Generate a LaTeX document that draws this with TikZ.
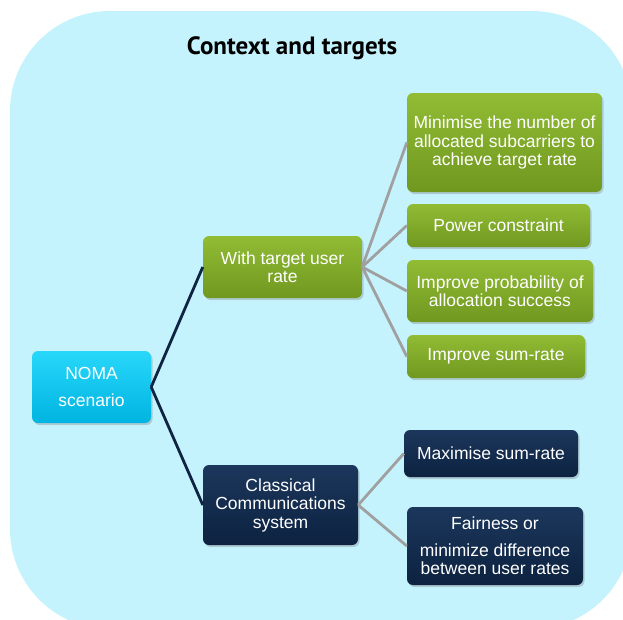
\documentclass[tikz,border=0pt]{standalone}
\usepackage{fontspec}
\setmainfont{Liberation Sans}
\newfontfamily\titlefont{PT Sans}
\usetikzlibrary{shadows}

\definecolor{bgcyan}{RGB}{196,243,253}
\definecolor{nomatop}{RGB}{40,215,250}
\definecolor{nomabot}{RGB}{0,180,225}
\definecolor{greentop}{RGB}{145,188,52}
\definecolor{greenbot}{RGB}{112,152,32}
\definecolor{navytop}{RGB}{28,55,92}
\definecolor{navybot}{RGB}{12,34,64}
\definecolor{navyline}{RGB}{14,36,66}
\definecolor{greyline}{RGB}{160,160,160}

\begin{document}
\begin{tikzpicture}
[
	x=1pt, y=-1pt,
	box/.style={rectangle,rounded corners=6pt,align=center,inner sep=0pt,
		text=white,font=\fontsize{17.5}{18.5}\selectfont,
		drop shadow={shadow xshift=1.5pt,shadow yshift=-2pt,opacity=0.35}},
	nomabox/.style={box,top color=nomatop,bottom color=nomabot},
	greenbox/.style={box,top color=greentop,bottom color=greenbot},
	navybox/.style={box,top color=navytop,bottom color=navybot},
	rootlink/.style={draw=navyline,line width=2.8pt},
	leaflink/.style={draw=greyline,line width=2.8pt}
]

	% canvas and background panel
	\useasboundingbox (0,0) rectangle (623,619);
	\begin{scope}
		\clip (0,0) rectangle (623,619);
		\fill[bgcyan,rounded corners=100pt] (10,11) rectangle (632,629);
	\end{scope}

	% title
	\node[anchor=base,inner sep=0pt,font=\titlefont\bfseries\fontsize{25}{28}\selectfont]
		(title) at (292,54) {Context and targets};

	% root
	\node[nomabox,minimum width=119pt,minimum height=72pt] (noma) at (91.5,387)
		{NOMA\\[8pt]scenario};

	% branches
	\node[greenbox,minimum width=159pt,minimum height=62pt] (rate) at (282.5,267)
		{With target user\\rate};
	\node[navybox,minimum width=155pt,minimum height=80pt] (classic) at (280.5,505)
		{Classical\\Communications\\system};

	% targets with user rate
	\node[greenbox,minimum width=195pt,minimum height=99pt] (subc) at (504.5,142.5)
		{Minimise the number of\\allocated subcarriers to\\achieve target rate};
	\node[greenbox,minimum width=183pt,minimum height=43pt] (power) at (498.5,225.5)
		{Power constraint};
	\node[greenbox,minimum width=186pt,minimum height=62pt] (prob) at (500,291)
		{Improve probability of\\allocation success};
	\node[greenbox,minimum width=178pt,minimum height=43pt] (sumrate) at (496,356.5)
		{Improve sum-rate};

	% classical targets
	\node[navybox,minimum width=174pt,minimum height=47pt] (maxrate) at (491,453.5)
		{Maximise sum-rate};
	\node[navybox,minimum width=176pt,minimum height=78pt] (fair) at (495,546)
		{Fairness or\\[8pt]minimize difference\\between user rates};

	% links
	\draw[rootlink] (noma.east) -- (rate.west);
	\draw[rootlink] (noma.east) -- (classic.west);
	\foreach \leaf in {subc,power,prob,sumrate} {
		\draw[leaflink] (rate.east) -- (\leaf.west);
	}
	\foreach \leaf in {maxrate,fair} {
		\draw[leaflink] (classic.east) -- (\leaf.west);
	}

\end{tikzpicture}
\end{document}
